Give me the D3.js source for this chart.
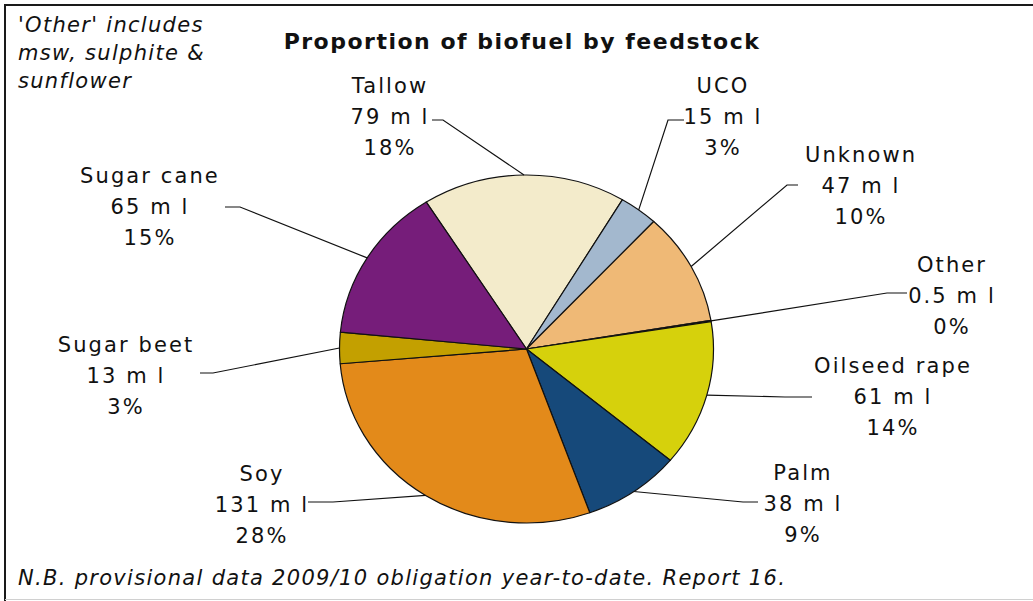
<!DOCTYPE html>
<html>
<head>
<meta charset="utf-8">
<script src="https://cdn.jsdelivr.net/npm/d3@7"></script>
<style>
  html, body { margin: 0; padding: 0; background: #fff; }
  svg { display: block; }
  text { font-family: "DejaVu Sans", Verdana, sans-serif; fill: #111; }
</style>
</head>
<body>
<svg id="chart" width="1033" height="601"></svg>
<script>
// ---- data ----
const categories = ["Tallow", "UCO", "Unknown", "Other", "Oilseed rape", "Palm", "Soy", "Sugar beet", "Sugar cane"];
const volumes = [79, 15, 47, 0.5, 61, 38, 131, 13, 65];           // million litres
const volumeLabels = ["79 m l", "15 m l", "47 m l", "0.5 m l", "61 m l", "38 m l", "131 m l", "13 m l", "65 m l"];
const percentLabels = ["18%", "3%", "10%", "0%", "14%", "9%", "28%", "3%", "15%"];
const colors = ["#F3EBCB", "#A3B8CE", "#EFB976", "#B0B0D8", "#D6D10C", "#16497A", "#E38A1A", "#C3A000", "#761D7A"];

const titleText = "Proportion of biofuel by feedstock";
const noteLines = ["'Other' includes", "msw, sulphite &", "sunflower"];
const footerText = "N.B. provisional data 2009/10 obligation year-to-date. Report 16.";

// ---- layout (label placement, not data) ----
const labelLayout = [
  { x: 389, y: 93,  elbow: [443, 120], end: [432, 120] },
  { x: 722, y: 93,  elbow: [668, 120], end: [684, 120] },
  { x: 860, y: 162, elbow: [787, 185], end: [798, 185] },
  { x: 951, y: 272, elbow: [887, 293], end: [907, 293] },
  { x: 892, y: 373, elbow: [785, 397], end: [812, 397] },
  { x: 802, y: 480, elbow: [743, 502], end: [758, 502] },
  { x: 261, y: 481, elbow: [333, 502], end: [308, 502] },
  { x: 125, y: 352, elbow: [213, 373], end: [200, 373] },
  { x: 149, y: 183, elbow: [240, 207], end: [225, 207] }
];

const W = 1033, H = 601;
const cx = 526.5, cy = 349, rx = 187, ry = 174;
const startDeg = -32.4;
const lineGap = 31;

const svg = d3.select("#chart");

// frame
svg.append("path")
  .attr("d", `M${W},5 L5,5 L5,${H}`)
  .attr("fill", "none").attr("stroke", "#1a1a1a").attr("stroke-width", 2);
svg.append("line")
  .attr("x1", 5).attr("x2", W).attr("y1", 599.5).attr("y2", 599.5)
  .attr("stroke", "#d0d0d0").attr("stroke-width", 1);

// title
svg.append("text")
  .attr("x", 522).attr("y", 49)
  .attr("text-anchor", "middle")
  .style("font-weight", "bold").style("font-size", "22px").style("letter-spacing", "1.5px")
  .text(titleText);

// note
svg.append("g").selectAll("text").data(noteLines).join("text")
  .attr("x", 18).attr("y", (d, i) => 32 + i * 28)
  .style("font-style", "italic").style("font-size", "21px").style("letter-spacing", "1.3px")
  .text(d => d);

// footer
svg.append("text")
  .attr("x", 18).attr("y", 585)
  .style("font-style", "italic").style("font-size", "21px").style("letter-spacing", "1.3px")
  .text(footerText);

// pie
const pie = d3.pie().sort(null).value(d => d)
  .startAngle(startDeg * Math.PI / 180)
  .endAngle(startDeg * Math.PI / 180 + 2 * Math.PI);
const arcs = pie(volumes);
const arc = d3.arc().innerRadius(0).outerRadius(ry);

const pieG = svg.append("g")
  .attr("transform", `translate(${cx},${cy}) scale(${rx / ry},1)`);
pieG.selectAll("path").data(arcs).join("path")
  .attr("d", arc)
  .attr("fill", (d, i) => colors[i])
  .attr("stroke", "#111")
  .attr("stroke-width", 1.2)
  .attr("vector-effect", "non-scaling-stroke")
  .attr("stroke-linejoin", "round");

// leader lines
const edgePoint = d => {
  const a = (d.startAngle + d.endAngle) / 2;
  return [cx + rx * Math.sin(a), cy - ry * Math.cos(a)];
};
svg.append("g").selectAll("polyline").data(arcs).join("polyline")
  .attr("points", (d, i) => {
    const p = edgePoint(d), L = labelLayout[i];
    return [p, L.elbow, L.end].map(q => q.join(",")).join(" ");
  })
  .attr("fill", "none").attr("stroke", "#111").attr("stroke-width", 1.2);

// labels
const lg = svg.append("g").selectAll("g").data(arcs).join("g");
lg.each(function(d, i) {
  const L = labelLayout[i];
  const lines = [categories[i], volumeLabels[i], percentLabels[i]];
  d3.select(this).selectAll("text").data(lines).join("text")
    .attr("x", L.x + 1).attr("y", (t, j) => L.y + j * lineGap)
    .attr("text-anchor", "middle")
    .style("font-size", "21px").style("letter-spacing", "2.1px")
    .text(t => t);
});
</script>
</body>
</html>
